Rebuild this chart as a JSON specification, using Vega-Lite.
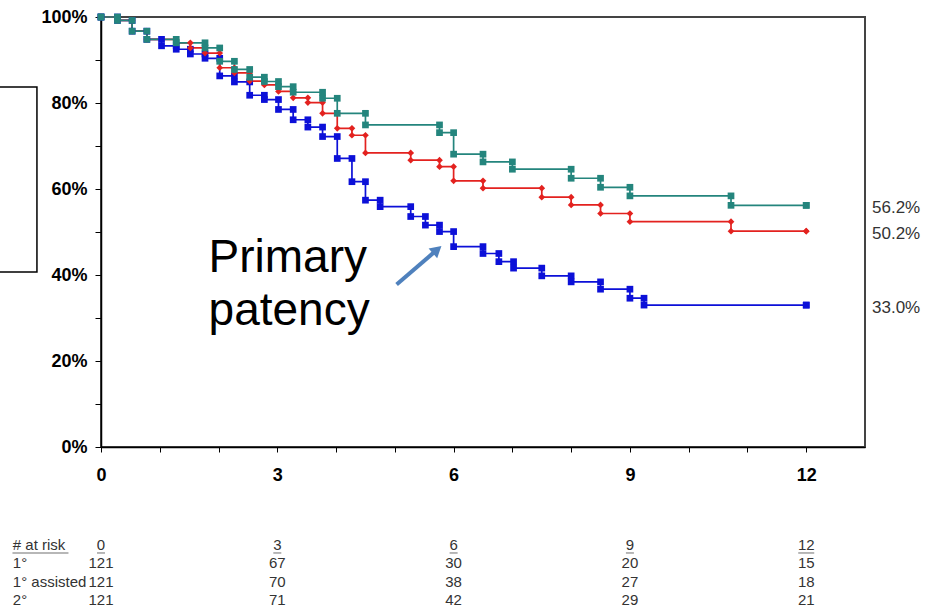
{
  "$schema": "https://vega.github.io/schema/vega-lite/v6.json",
  "width": 764,
  "height": 430,
  "autosize": "none",
  "padding": {"left": 101, "top": 17, "right": 73, "bottom": 166},
  "background": "white",
  "config": {
    "font": "Liberation Sans",
    "view": {"stroke": "#444444", "strokeWidth": 2}
  },
  "datasets": {
    "km": [
      {"g": "Primary", "t": 0, "a": 100, "b": 100},
      {"g": "Primary", "t": 0.28, "a": 100, "b": 99.2},
      {"g": "Primary", "t": 0.53, "a": 99.2, "b": 96.7},
      {"g": "Primary", "t": 0.78, "a": 96.7, "b": 94.8},
      {"g": "Primary", "t": 1.03, "a": 94.8, "b": 93.3},
      {"g": "Primary", "t": 1.28, "a": 93.3, "b": 92.5},
      {"g": "Primary", "t": 1.52, "a": 92.5, "b": 91.4},
      {"g": "Primary", "t": 1.77, "a": 91.4, "b": 90.4},
      {"g": "Primary", "t": 2.02, "a": 90.4, "b": 86.3},
      {"g": "Primary", "t": 2.27, "a": 86.3, "b": 84.9},
      {"g": "Primary", "t": 2.53, "a": 84.9, "b": 81.8},
      {"g": "Primary", "t": 2.78, "a": 81.8, "b": 80.8},
      {"g": "Primary", "t": 3.02, "a": 80.8, "b": 78.5},
      {"g": "Primary", "t": 3.27, "a": 78.5, "b": 76.1},
      {"g": "Primary", "t": 3.52, "a": 76.1, "b": 74.4},
      {"g": "Primary", "t": 3.77, "a": 74.4, "b": 72.2},
      {"g": "Primary", "t": 4.02, "a": 72.2, "b": 67.1},
      {"g": "Primary", "t": 4.27, "a": 67.1, "b": 61.7},
      {"g": "Primary", "t": 4.5, "a": 61.7, "b": 57.4},
      {"g": "Primary", "t": 4.75, "a": 57.4, "b": 55.9},
      {"g": "Primary", "t": 5.27, "a": 55.9, "b": 53.6},
      {"g": "Primary", "t": 5.52, "a": 53.6, "b": 51.6},
      {"g": "Primary", "t": 5.76, "a": 51.6, "b": 50.1},
      {"g": "Primary", "t": 6.0, "a": 50.1, "b": 46.6},
      {"g": "Primary", "t": 6.5, "a": 46.6, "b": 45.0},
      {"g": "Primary", "t": 6.77, "a": 45.0, "b": 43.1},
      {"g": "Primary", "t": 7.02, "a": 43.1, "b": 41.6},
      {"g": "Primary", "t": 7.5, "a": 41.6, "b": 39.8},
      {"g": "Primary", "t": 8.0, "a": 39.8, "b": 38.4},
      {"g": "Primary", "t": 8.5, "a": 38.4, "b": 36.7},
      {"g": "Primary", "t": 9.0, "a": 36.7, "b": 34.6},
      {"g": "Primary", "t": 9.24, "a": 34.6, "b": 33.0},
      {"g": "Primary", "t": 12, "a": 33.0, "b": 33.0},
      {"g": "Assisted", "t": 0, "a": 100, "b": 100},
      {"g": "Assisted", "t": 0.28, "a": 100, "b": 99.2},
      {"g": "Assisted", "t": 0.53, "a": 99.2, "b": 96.7},
      {"g": "Assisted", "t": 0.78, "a": 96.7, "b": 94.8},
      {"g": "Assisted", "t": 1.28, "a": 94.8, "b": 94.0},
      {"g": "Assisted", "t": 1.52, "a": 94.0, "b": 92.8},
      {"g": "Assisted", "t": 1.77, "a": 92.8, "b": 91.6},
      {"g": "Assisted", "t": 2.02, "a": 91.6, "b": 88.2},
      {"g": "Assisted", "t": 2.27, "a": 88.2, "b": 87.0},
      {"g": "Assisted", "t": 2.53, "a": 87.0, "b": 85.1},
      {"g": "Assisted", "t": 2.78, "a": 85.1, "b": 84.2},
      {"g": "Assisted", "t": 3.02, "a": 84.2, "b": 82.7},
      {"g": "Assisted", "t": 3.27, "a": 82.7, "b": 81.2},
      {"g": "Assisted", "t": 3.52, "a": 81.2, "b": 80.1},
      {"g": "Assisted", "t": 3.77, "a": 80.1, "b": 77.6},
      {"g": "Assisted", "t": 4.02, "a": 77.6, "b": 74.1},
      {"g": "Assisted", "t": 4.27, "a": 74.1, "b": 72.5},
      {"g": "Assisted", "t": 4.5, "a": 72.5, "b": 68.4},
      {"g": "Assisted", "t": 5.27, "a": 68.4, "b": 66.7},
      {"g": "Assisted", "t": 5.76, "a": 66.7, "b": 65.2},
      {"g": "Assisted", "t": 6.0, "a": 65.2, "b": 61.9},
      {"g": "Assisted", "t": 6.5, "a": 61.9, "b": 60.2},
      {"g": "Assisted", "t": 7.5, "a": 60.2, "b": 58.1},
      {"g": "Assisted", "t": 8.0, "a": 58.1, "b": 56.3},
      {"g": "Assisted", "t": 8.5, "a": 56.3, "b": 54.3},
      {"g": "Assisted", "t": 9.0, "a": 54.3, "b": 52.4},
      {"g": "Assisted", "t": 10.72, "a": 52.4, "b": 50.2},
      {"g": "Assisted", "t": 12, "a": 50.2, "b": 50.2},
      {"g": "Secondary", "t": 0, "a": 100, "b": 100},
      {"g": "Secondary", "t": 0.28, "a": 100, "b": 99.2},
      {"g": "Secondary", "t": 0.53, "a": 99.2, "b": 96.7},
      {"g": "Secondary", "t": 0.78, "a": 96.7, "b": 94.8},
      {"g": "Secondary", "t": 1.28, "a": 94.8, "b": 94.0},
      {"g": "Secondary", "t": 1.77, "a": 94.0, "b": 92.8},
      {"g": "Secondary", "t": 2.02, "a": 92.8, "b": 89.7},
      {"g": "Secondary", "t": 2.27, "a": 89.7, "b": 87.8},
      {"g": "Secondary", "t": 2.53, "a": 87.8, "b": 86.0},
      {"g": "Secondary", "t": 2.78, "a": 86.0, "b": 85.0},
      {"g": "Secondary", "t": 3.02, "a": 85.0, "b": 83.8},
      {"g": "Secondary", "t": 3.27, "a": 83.8, "b": 82.5},
      {"g": "Secondary", "t": 3.77, "a": 82.5, "b": 81.1},
      {"g": "Secondary", "t": 4.02, "a": 81.1, "b": 77.6},
      {"g": "Secondary", "t": 4.5, "a": 77.6, "b": 74.9},
      {"g": "Secondary", "t": 5.76, "a": 74.9, "b": 73.1},
      {"g": "Secondary", "t": 6.0, "a": 73.1, "b": 68.1},
      {"g": "Secondary", "t": 6.5, "a": 68.1, "b": 66.3},
      {"g": "Secondary", "t": 7.0, "a": 66.3, "b": 64.6},
      {"g": "Secondary", "t": 8.0, "a": 64.6, "b": 62.5},
      {"g": "Secondary", "t": 8.5, "a": 62.5, "b": 60.4},
      {"g": "Secondary", "t": 9.0, "a": 60.4, "b": 58.4},
      {"g": "Secondary", "t": 10.72, "a": 58.4, "b": 56.2},
      {"g": "Secondary", "t": 12, "a": 56.2, "b": 56.2}
    ],
    "ends": [
      {"g": "Secondary", "v": 56.2, "label": "56.2%"},
      {"g": "Assisted", "v": 50.2, "label": "50.2%"},
      {"g": "Primary", "v": 33.0, "label": "33.0%"}
    ],
    "risk": [
      {"row": "# at risk", "t": 0, "n": 0},
      {"row": "# at risk", "t": 3, "n": 3},
      {"row": "# at risk", "t": 6, "n": 6},
      {"row": "# at risk", "t": 9, "n": 9},
      {"row": "# at risk", "t": 12, "n": 12},
      {"row": "1°", "t": 0, "n": 121},
      {"row": "1°", "t": 3, "n": 67},
      {"row": "1°", "t": 6, "n": 30},
      {"row": "1°", "t": 9, "n": 20},
      {"row": "1°", "t": 12, "n": 15},
      {"row": "1° assisted", "t": 0, "n": 121},
      {"row": "1° assisted", "t": 3, "n": 70},
      {"row": "1° assisted", "t": 6, "n": 38},
      {"row": "1° assisted", "t": 9, "n": 27},
      {"row": "1° assisted", "t": 12, "n": 18},
      {"row": "2°", "t": 0, "n": 121},
      {"row": "2°", "t": 3, "n": 71},
      {"row": "2°", "t": 6, "n": 42},
      {"row": "2°", "t": 9, "n": 29},
      {"row": "2°", "t": 12, "n": 21}
    ],
    "rows": [
      {"row": "# at risk"},
      {"row": "1°"},
      {"row": "1° assisted"},
      {"row": "2°"}
    ]
  },
  "resolve": {"scale": {"y": "independent"}},
  "layer": [
    {
      "layer": [
        {
          "data": {"name": "km"},
          "mark": {"type": "line", "interpolate": "step-after", "strokeWidth": 1.7},
          "encoding": {
            "x": {
              "field": "t", "type": "quantitative",
              "scale": {"domain": [0, 13], "nice": false, "zero": false},
              "axis": {
                "values": [0, 1, 2, 3, 4, 5, 6, 7, 8, 9, 10, 11, 12],
                "labelExpr": "datum.value % 3 == 0 ? format(datum.value, 'd') : ''",
                "title": null, "grid": false,
                "labelFontSize": 18, "labelFontWeight": "bold", "labelColor": "#000000",
                "labelPadding": 14, "labelFlush": false, "labelOverlap": false,
                "tickSize": 5, "tickColor": "#000000", "tickWidth": 1,
                "domainColor": "#000000", "domainWidth": 1.5
              }
            },
            "y": {
              "field": "b", "type": "quantitative",
              "scale": {"domain": [0, 100], "nice": false},
              "axis": {
                "values": [0, 10, 20, 30, 40, 50, 60, 70, 80, 90, 100],
                "labelExpr": "datum.value % 20 == 0 ? format(datum.value, 'd') + '%' : ''",
                "title": null, "grid": false,
                "labelFontSize": 18, "labelFontWeight": "bold", "labelColor": "#000000",
                "labelPadding": 8, "labelFlush": false, "labelOverlap": false,
                "tickSize": 6, "tickColor": "#000000", "tickWidth": 1,
                "domainColor": "#000000", "domainWidth": 1.5
              }
            },
            "color": {
              "field": "g", "type": "nominal",
              "scale": {"domain": ["Primary", "Assisted", "Secondary"], "range": ["#0c10d8", "#e3221f", "#24857d"]},
              "legend": null
            }
          }
        },
        {
          "data": {"name": "km"},
          "transform": [{"fold": ["a", "b"], "as": ["k", "v"]}],
          "mark": {"type": "point", "filled": true, "opacity": 1, "size": 45},
          "encoding": {
            "x": {"field": "t", "type": "quantitative", "scale": {"domain": [0, 13], "nice": false, "zero": false}},
            "y": {"field": "v", "type": "quantitative", "scale": {"domain": [0, 100], "nice": false}},
            "color": {
              "field": "g", "type": "nominal",
              "scale": {"domain": ["Primary", "Assisted", "Secondary"], "range": ["#0c10d8", "#e3221f", "#24857d"]},
              "legend": null
            },
            "shape": {
              "field": "g", "type": "nominal",
              "scale": {"domain": ["Primary", "Assisted", "Secondary"], "range": ["square", "diamond", "square"]},
              "legend": null
            }
          }
        },
        {
          "data": {"name": "ends"},
          "mark": {"type": "text", "align": "left", "baseline": "middle", "dx": 7, "dy": 3, "fontSize": 17, "color": "#333333"},
          "encoding": {
            "x": {"datum": 13, "type": "quantitative", "scale": {"domain": [0, 13], "nice": false, "zero": false}},
            "y": {"field": "v", "type": "quantitative", "scale": {"domain": [0, 100], "nice": false}},
            "text": {"field": "label"}
          }
        },
        {
          "data": {"values": [{}]},
          "mark": {"type": "text", "text": ["Primary", "patency"], "align": "left", "baseline": "alphabetic", "fontSize": 46, "lineHeight": 53, "color": "#000000"},
          "encoding": {
            "x": {"datum": 1.83, "type": "quantitative", "scale": {"domain": [0, 13], "nice": false, "zero": false}},
            "y": {"datum": 40.8, "type": "quantitative", "scale": {"domain": [0, 100], "nice": false}}
          }
        },
        {
          "data": {"values": [{}]},
          "mark": {"type": "rule", "strokeWidth": 4, "color": "#4f81bd"},
          "encoding": {
            "x": {"datum": 5.03, "type": "quantitative", "scale": {"domain": [0, 13], "nice": false, "zero": false}},
            "y": {"datum": 37.8, "type": "quantitative", "scale": {"domain": [0, 100], "nice": false}},
            "x2": {"datum": 5.66},
            "y2": {"datum": 45.2}
          }
        },
        {
          "data": {"values": [{}]},
          "mark": {"type": "point", "shape": "triangle-up", "filled": true, "opacity": 1, "angle": 49, "size": 170, "color": "#4f81bd"},
          "encoding": {
            "x": {"datum": 5.72, "type": "quantitative", "scale": {"domain": [0, 13], "nice": false, "zero": false}},
            "y": {"datum": 45.9, "type": "quantitative", "scale": {"domain": [0, 100], "nice": false}}
          }
        },
        {
          "data": {"values": [{}]},
          "mark": {"type": "rect", "filled": false, "stroke": "#000000", "strokeWidth": 1.5},
          "encoding": {
            "x": {"datum": -1.95, "type": "quantitative", "scale": {"domain": [0, 13], "nice": false, "zero": false}},
            "x2": {"datum": -1.09},
            "y": {"datum": 83.7, "type": "quantitative", "scale": {"domain": [0, 100], "nice": false}},
            "y2": {"datum": 40.7}
          }
        }
      ]
    },
    {
      "layer": [
        {
          "data": {"name": "risk"},
          "mark": {"type": "text", "align": "center", "baseline": "middle", "fontSize": 15, "color": "#333333"},
          "encoding": {
            "x": {"field": "t", "type": "quantitative", "scale": {"domain": [0, 13], "nice": false, "zero": false}},
            "y": {"field": "row", "type": "ordinal", "scale": {"domain": ["# at risk", "1°", "1° assisted", "2°"], "range": [518.8, 592.2]}, "axis": null},
            "text": {"field": "n"}
          }
        },
        {
          "data": {"name": "rows"},
          "mark": {"type": "text", "align": "left", "baseline": "middle", "fontSize": 15, "color": "#333333"},
          "encoding": {
            "x": {"datum": -1.5, "type": "quantitative", "scale": {"domain": [0, 13], "nice": false, "zero": false}},
            "y": {"field": "row", "type": "ordinal", "scale": {"domain": ["# at risk", "1°", "1° assisted", "2°"], "range": [518.8, 592.2]}, "axis": null},
            "text": {"field": "row"}
          }
        },
        {
          "data": {"name": "risk"},
          "transform": [{"filter": "datum.row == '# at risk'"}],
          "mark": {"type": "tick", "orient": "horizontal", "thickness": 1, "yOffset": 8, "color": "#333333"},
          "encoding": {
            "x": {"field": "t", "type": "quantitative", "scale": {"domain": [0, 13], "nice": false, "zero": false}},
            "y": {"field": "row", "type": "ordinal", "scale": {"domain": ["# at risk", "1°", "1° assisted", "2°"], "range": [518.8, 592.2]}, "axis": null},
            "size": {"condition": {"test": "datum.t >= 10", "value": 16}, "value": 8}
          }
        },
        {
          "data": {"values": [{}]},
          "mark": {"type": "tick", "orient": "horizontal", "thickness": 1, "yOffset": 8, "color": "#333333", "size": 56},
          "encoding": {
            "x": {"datum": -1.03, "type": "quantitative", "scale": {"domain": [0, 13], "nice": false, "zero": false}},
            "y": {"datum": "# at risk", "type": "ordinal", "scale": {"domain": ["# at risk", "1°", "1° assisted", "2°"], "range": [518.8, 592.2]}, "axis": null}
          }
        }
      ]
    }
  ]
}
